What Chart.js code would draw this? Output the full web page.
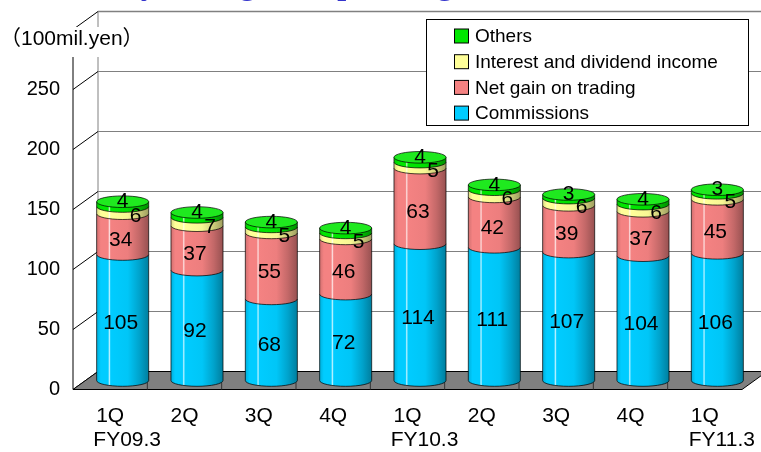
<!DOCTYPE html>
<html>
<head>
<meta charset="utf-8">
<script src="https://cdn.jsdelivr.net/npm/chart.js@4.4.1/dist/chart.umd.min.js"></script>
<style>
  html, body { margin: 0; padding: 0; background: #fff; overflow: hidden; }
  #wrap { position: relative; width: 761px; height: 452px; }
</style>
</head>
<body>
<div id="wrap"><canvas id="c" width="761" height="452"></canvas></div>
<script>
// Quarterly operating revenue breakdown, 100 mil. yen
const categories = ['1Q', '2Q', '3Q', '4Q', '1Q', '2Q', '3Q', '4Q', '1Q'];
const fiscalYears = ['FY09.3', '', '', '', 'FY10.3', '', '', '', 'FY11.3'];
const commissions = [105, 92, 68, 72, 114, 111, 107, 104, 106];
const netGainOnTrading = [34, 37, 55, 46, 63, 42, 39, 37, 45];
const interestAndDividend = [6, 7, 5, 5, 5, 6, 6, 6, 5];
const others = [4, 4, 4, 4, 4, 4, 3, 4, 3];
const yTicks = [0, 50, 100, 150, 200, 250];
const yMax = 300;
const unitLabel = '（100mil.yen）';
const titleText = 'Quarterly Change in Operating Revenues';

// depth of the 3D box (front plane -> back wall)
const DX = 25, DY = -18;
const FONT = '"Liberation Sans", Arial, "Noto Sans CJK JP", sans-serif';

function hexRgb(h) {
  const n = parseInt(h.slice(1), 16);
  return [(n >> 16) & 255, (n >> 8) & 255, n & 255];
}
function tone(h, f) {
  const m = v => f <= 1 ? Math.round(v * f) : Math.round(v + (255 - v) * (f - 1));
  const [r, g, b] = hexRgb(h);
  return `rgb(${m(r)},${m(g)},${m(b)})`;
}

function cylinderFill(ctx, cx, rx, base) {
  const g = ctx.createLinearGradient(cx - rx, 0, cx + rx, 0);
  g.addColorStop(0.00, tone(base, 0.86));
  g.addColorStop(0.08, base);
  g.addColorStop(0.22, base);
  g.addColorStop(0.245, tone(base, 1.75));
  g.addColorStop(0.27, base);
  g.addColorStop(0.60, tone(base, 0.97));
  g.addColorStop(0.82, tone(base, 0.8));
  g.addColorStop(1.00, tone(base, 0.62));
  return g;
}

function drawSegment(ctx, cx, rx, ry, yTop, yBot, base, isTop) {
  ctx.fillStyle = cylinderFill(ctx, cx, rx, base);
  ctx.beginPath();
  ctx.moveTo(cx - rx, yTop);
  ctx.lineTo(cx - rx, yBot);
  ctx.ellipse(cx, yBot, rx, ry, 0, Math.PI, 0, true);
  ctx.lineTo(cx + rx, yTop);
  ctx.closePath();
  ctx.fill();
  ctx.beginPath();
  ctx.moveTo(cx - rx, yTop);
  ctx.lineTo(cx - rx, yBot);
  ctx.ellipse(cx, yBot, rx, ry, 0, Math.PI, 0, true);
  ctx.lineTo(cx + rx, yTop);
  ctx.stroke();
  if (isTop) {
    ctx.beginPath();
    ctx.ellipse(cx, yTop, rx, ry, 0, 0, Math.PI * 2);
    ctx.fillStyle = tone(base, 1.12);
    ctx.fill();
    ctx.stroke();
  }
}

const scene = {
  id: 'scene',
  beforeDatasetsDraw(chart) {
    const { ctx, chartArea: a, scales: { x, y } } = chart;
    const py = v => y.getPixelForValue(v);
    const levels = [...yTicks, yMax];
    ctx.save();

    // back wall grid
    ctx.lineWidth = 1;
    ctx.strokeStyle = '#808080';
    levels.forEach(v => {
      if (v === 0) return;
      ctx.lineWidth = v === yMax ? 1.5 : 1;
      ctx.beginPath();
      ctx.moveTo(a.left + DX, py(v) + DY);
      ctx.lineTo(a.right + DX + 20, py(v) + DY);
      ctx.stroke();
    });
    ctx.lineWidth = 1;
    ctx.beginPath();
    ctx.moveTo(a.left + DX, py(0) + DY);
    ctx.lineTo(a.left + DX, py(yMax) + DY);
    ctx.stroke();

    // side wall
    ctx.strokeStyle = '#000';
    levels.forEach(v => {
      ctx.beginPath();
      ctx.moveTo(a.left, py(v));
      ctx.lineTo(a.left + DX, py(v) + DY);
      ctx.stroke();
    });

    // floor
    ctx.beginPath();
    ctx.moveTo(a.left, py(0));
    ctx.lineTo(a.right, py(0));
    ctx.lineTo(a.right + DX, py(0) + DY);
    ctx.lineTo(a.left + DX, py(0) + DY);
    ctx.closePath();
    ctx.fillStyle = '#808080';
    ctx.fill();
    ctx.strokeStyle = '#000';
    ctx.stroke();

    // category dividers on the floor edge
    const step = x.getPixelForValue(1) - x.getPixelForValue(0);
    ctx.strokeStyle = '#333';
    for (let i = 1; i < categories.length; i++) {
      const bx = x.getPixelForValue(i) - step / 2;
      ctx.beginPath();
      ctx.moveTo(bx, py(0));
      ctx.lineTo(bx, py(0) - 7);
      ctx.stroke();
    }

    // value axis
    ctx.strokeStyle = '#000';
    ctx.beginPath();
    ctx.moveTo(a.left, py(0));
    ctx.lineTo(a.left, py(yMax));
    ctx.stroke();

    // cylinders
    const ds = chart.data.datasets;
    const ry = 5.8;
    ctx.lineWidth = 1;
    ctx.strokeStyle = 'rgba(0,0,0,0.7)';
    for (let i = 0; i < categories.length; i++) {
      ds.forEach((d, k) => {
        const el = chart.getDatasetMeta(k).data[i];
        const cx = el.x + DX / 2;
        const rx = el.width / 2;
        drawSegment(ctx, cx, rx, ry, el.y + DY / 2, el.base + DY / 2, d.backgroundColor, k === ds.length - 1);
      });
    }

    // value labels
    ctx.fillStyle = '#000';
    ctx.font = '21px ' + FONT;
    ctx.textAlign = 'center';
    ctx.textBaseline = 'middle';
    for (let i = 0; i < categories.length; i++) {
      ds.forEach((d, k) => {
        const el = chart.getDatasetMeta(k).data[i];
        const cx = el.x + DX / 2;
        const top = el.y + DY / 2, bot = el.base + DY / 2;
        const mid = (top + bot) / 2;
        let lx = cx - 2, ly = mid + 6;
        if (k === 2) { lx = cx + 13; ly = mid + 6; }
        if (k === 3) { lx = cx; ly = top; }
        ctx.fillText(String(d.data[i]), lx, ly);
      });
    }

    // fiscal year row under the quarter labels
    ctx.font = '21px ' + FONT;
    fiscalYears.forEach((fy, i) => {
      if (!fy) return;
      ctx.fillText(fy, x.getPixelForValue(i) + 17, 440);
    });

    ctx.restore();
    return false;
  },
  afterDraw(chart) {
    const { ctx } = chart;
    ctx.save();

    // title, running off the top edge
    ctx.font = 'bold 32px "Liberation Serif", "Times New Roman", serif';
    ctx.fillStyle = '#3333cc';
    ctx.textAlign = 'left';
    ctx.textBaseline = 'alphabetic';
    ctx.fillText(titleText, 20, -6);

    // unit label
    ctx.fillStyle = '#fff';
    ctx.fillRect(0, 27, 140, 30);
    ctx.fillStyle = '#000';
    ctx.font = '21px ' + FONT;
    ctx.textBaseline = 'middle';
    ctx.fillText(unitLabel, 0, 39);

    // legend
    const lx = 426.5, ly = 19.5, lw = 322, lh = 106;
    ctx.fillStyle = '#fff';
    ctx.fillRect(lx, ly, lw, lh);
    ctx.strokeStyle = '#000';
    ctx.lineWidth = 1;
    ctx.strokeRect(lx, ly, lw, lh);
    const items = chart.data.datasets.slice().reverse();
    ctx.font = '19px ' + FONT;
    items.forEach((d, j) => {
      const cy = 36 + j * 25.7;
      ctx.fillStyle = d.backgroundColor;
      ctx.fillRect(454.5, cy - 7, 14, 14);
      ctx.strokeStyle = '#000';
      ctx.strokeRect(454.5, cy - 7, 14, 14);
      ctx.fillStyle = '#000';
      ctx.fillText(d.label, 475, cy + 1);
    });
    ctx.restore();
  }
};

new Chart(document.getElementById('c'), {
  type: 'bar',
  data: {
    labels: categories,
    datasets: [
      { label: 'Commissions', data: commissions, backgroundColor: '#00ccff' },
      { label: 'Net gain on trading', data: netGainOnTrading, backgroundColor: '#f48282' },
      { label: 'Interest and dividend income', data: interestAndDividend, backgroundColor: '#ffff99' },
      { label: 'Others', data: others, backgroundColor: '#00e600' }
    ]
  },
  options: {
    responsive: false,
    devicePixelRatio: 1,
    animation: false,
    layout: { padding: { top: 29.5, right: 19, left: 0, bottom: 0 } },
    datasets: { bar: { categoryPercentage: 1, barPercentage: 0.7 } },
    plugins: { legend: { display: false }, tooltip: { enabled: false } },
    scales: {
      x: {
        stacked: true,
        grid: { display: false },
        border: { display: false },
        ticks: { color: '#000', font: { size: 21, family: FONT }, padding: 6, maxRotation: 0, autoSkip: false },
        afterFit: s => { s.height = 62.5; }
      },
      y: {
        stacked: true,
        min: 0,
        max: yMax,
        grid: { display: false },
        border: { display: false },
        afterBuildTicks: s => { s.ticks = yTicks.map(v => ({ value: v })); },
        ticks: { color: '#000', font: { size: 20, family: FONT }, padding: 5 },
        afterFit: s => { s.width = 73; }
      }
    }
  },
  plugins: [scene]
});
</script>
</body>
</html>
